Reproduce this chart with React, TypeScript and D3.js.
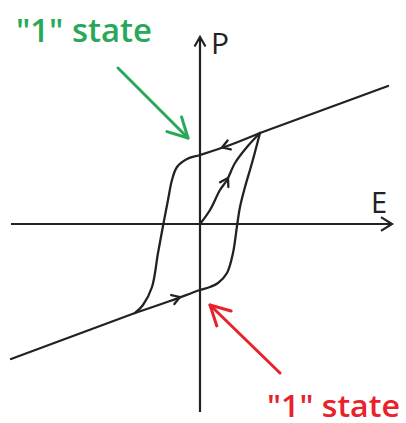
import React from "react";
import * as d3 from "d3";

type Pt = [number, number];

// Hysteresis loop data (E, P) in arbitrary units
const upperSaturation: Pt[] = [[18.8, 13.8], [6, 9.1]];
const descendingBranch: Pt[] = [
  [6, 9.1], [3, 7.9], [0, 6.9], [-1.3, 6.5], [-2.3, 5.7], [-2.8, 4.4], [-3.2, 2.4],
  [-3.7, -0.2], [-4.2, -2.9], [-4.8, -6.3], [-5.7, -8.1], [-6.5, -8.9],
];
const lowerSaturation: Pt[] = [[-6.5, -8.9], [-18.9, -13.5]];
const ascendingBranch: Pt[] = [
  [-6.5, -8.9], [-3, -7.7], [0, -6.6], [1.0, -6.3], [1.8, -5.9], [2.7, -4.9], [3.3, -2.9],
  [3.7, -0.2], [4.0, 1.7], [4.5, 3.7], [5.2, 6.1], [6, 9.1],
];
const initialCurve: Pt[] = [
  [0, 0], [1, 1.4], [2, 3.4], [2.7, 4.4], [3.5, 6.1], [4.7, 7.7], [6, 9.1],
];
const axisLabels = { x: "E", y: "P" };
const stateLabel = "\"1\" state";

const W = 406, H = 423;
const x = d3.scaleLinear().domain([-19, 19]).range([10, 390]);
const y = d3.scaleLinear().domain([-19, 19]).range([414, 34]);

const line = d3.line<Pt>().x(d => x(d[0])).y(d => y(d[1]));
const smooth = d3.line<Pt>().x(d => x(d[0])).y(d => y(d[1])).curve(d3.curveCatmullRom.alpha(0.5));

function chevron(tx: number, ty: number, angleDeg: number, len: number, spread: number) {
  const a = (angleDeg * Math.PI) / 180;
  const pts: Pt[] = [-1, 1].map(s => {
    const ang = a + Math.PI + s * spread * Math.PI / 180;
    return [tx + len * Math.cos(ang), ty + len * Math.sin(ang)] as Pt;
  });
  return `M${pts[0][0]},${pts[0][1]}L${tx},${ty}L${pts[1][0]},${pts[1][1]}`;
}

// arrow along a data segment: tip at data point p, direction from q to p
function midArrow(p: Pt, q: Pt, len = 8, spread = 30) {
  const tx = x(p[0]), ty = y(p[1]);
  const ang = Math.atan2(ty - y(q[1]), tx - x(q[0])) * 180 / Math.PI;
  return chevron(tx, ty, ang, len, spread);
}

export default function App() {
  const ink = "#222";
  const green = "#2aa85a";
  const red = "#e8212b";
  return (
    <svg width={W} height={H} style={{ position: "absolute", left: 0, top: 0, background: "#fff" }}>
      {/* axes */}
      <line x1={x(-18.9)} y1={y(0)} x2={x(19.2)} y2={y(0)} stroke={ink} strokeWidth={2.2} />
      <path d={chevron(x(19.2), y(0), 0, 13, 32)} fill="none" stroke={ink} strokeWidth={2.2} />
      <line x1={x(0)} y1={y(-18.8)} x2={x(0)} y2={y(18.7)} stroke={ink} strokeWidth={2.2} />
      <path d={chevron(x(0), y(18.7), -90, 11, 30)} fill="none" stroke={ink} strokeWidth={2.2} />
      <text x={371} y={213} fontFamily="Open Sans" fontSize={29} fill={ink}>{axisLabels.x}</text>
      <text x={211} y={54} fontFamily="Open Sans" fontSize={30} fill={ink}>{axisLabels.y}</text>

      {/* loop */}
      <g fill="none" stroke={ink} strokeWidth={2.3} strokeLinejoin="round" strokeLinecap="round">
        <path d={line(upperSaturation) || ""} />
        <path d={line(lowerSaturation) || ""} />
        <path d={smooth(descendingBranch) || ""} />
        <path d={smooth(ascendingBranch) || ""} />
        <path d={smooth(initialCurve) || ""} />
        <path d={midArrow([2.2, 7.65], [4, 8.3], 9, 32)} />
        <path d={midArrow([-2, -7.3], [-4, -8.0], 9, 32)} />
        <path d={midArrow([2.8, 4.6], [2.4, 3.9], 9, 32)} />
      </g>

      {/* annotations */}
      <text x={16} y={42} fontFamily="Open Sans" fontWeight={600} fontSize={32} fill={green} textLength={136} lengthAdjust="spacingAndGlyphs">{stateLabel}</text>
      <g fill="none" stroke={green} strokeWidth={3} strokeLinecap="round" strokeLinejoin="round">
        <line x1={118} y1={68} x2={188} y2={138} />
        <path d={chevron(188, 138, 45, 22, 28)} />
      </g>
      <text x={267} y={417} fontFamily="Open Sans" fontWeight={600} fontSize={31} fill={red} textLength={133} lengthAdjust="spacingAndGlyphs">{stateLabel}</text>
      <g fill="none" stroke={red} strokeWidth={3} strokeLinecap="round" strokeLinejoin="round">
        <line x1={280} y1={373} x2={210} y2={305} />
        <path d={chevron(210, 305, -136, 22, 28)} />
      </g>
    </svg>
  );
}
